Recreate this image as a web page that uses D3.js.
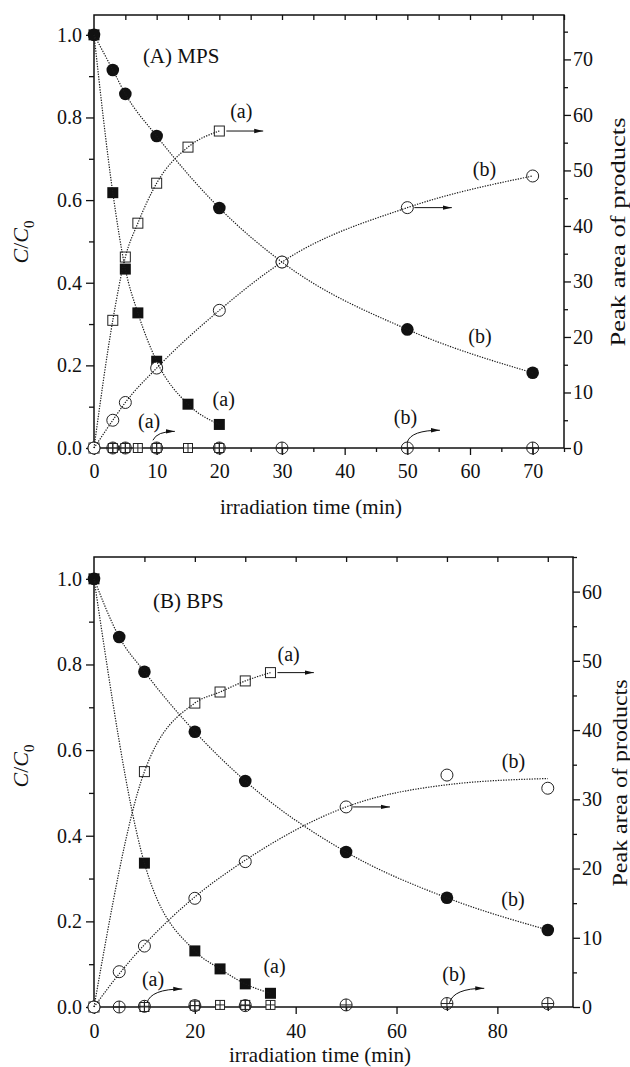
<!DOCTYPE html>
<html>
<head>
<meta charset="utf-8">
<script src="https://cdn.jsdelivr.net/npm/d3@7"></script>
<style>
    body { margin: 0; background: #fff; }
    svg text { font-family: "Liberation Serif", "Times New Roman", serif; fill: #111; }
</style>
</head>
<body>
<svg id="chart" width="630" height="1067"></svg>
<script>
// ---- (A) MPS ----
var mpsTimeA = [0, 3, 5, 7, 10, 15, 20];
var mpsTimeB = [0, 3, 5, 10, 20, 30, 50, 70];
var mpsA = [1.0, 0.618, 0.433, 0.327, 0.21, 0.106, 0.057];          // C/C0, filled squares
var mpsB = [1.0, 0.915, 0.857, 0.755, 0.581, 0.45, 0.287, 0.182];   // C/C0, filled circles
var mpsAProd = [0, 23.0, 34.4, 40.5, 47.7, 54.2, 57.1];             // peak area, open squares
var mpsBProd = [0, 5.0, 8.2, 14.4, 24.8, 33.5, 43.3, 49.0];         // peak area, open circles
var mpsAOther = [0, 0, 0, 0, 0, 0, 0];
var mpsBOther = [0, 0, 0, 0, 0, 0, 0, 0];

// ---- (B) BPS ----
var bpsTimeA = [0, 10, 20, 25, 30, 35];
var bpsTimeB = [0, 5, 10, 20, 30, 50, 70, 90];
var bpsA = [1.0, 0.336, 0.131, 0.089, 0.054, 0.032];
var bpsB = [1.0, 0.864, 0.783, 0.643, 0.528, 0.362, 0.255, 0.18];
var bpsAProd = [0, 34.0, 43.9, 45.5, 47.1, 48.3];
var bpsBProd = [0, 5.1, 8.8, 15.7, 21.0, 28.9, 33.5, 31.6];
var bpsBProdFit = [0, 4.8, 9.0, 15.9, 21.2, 28.9, 32.1, 33.0];      // fitted curve
var bpsAOther = [0, 0, 0.2, 0.3, 0.3, 0.3];
var bpsBOther = [0, 0, 0.1, 0.2, 0.2, 0.3, 0.5, 0.5];

// ---- ticks ----
var cTicks = [0, 0.2, 0.4, 0.6, 0.8, 1.0];
var cMinorTicks = [0.1, 0.3, 0.5, 0.7, 0.9];
var mpsTimeTicks = [0, 10, 20, 30, 40, 50, 60, 70];
var mpsTimeMinor = [5, 15, 25, 35, 45, 55, 65, 75];
var mpsTimeTop = [5, 10, 15, 20, 25, 30, 35, 40, 45, 50, 55, 60, 65, 70, 75];
var mpsAreaTicks = [0, 10, 20, 30, 40, 50, 60, 70];
var mpsAreaMinor = [5, 15, 25, 35, 45, 55, 65, 75];
var bpsTimeTicks = [0, 20, 40, 60, 80];
var bpsTimeMinor = [10, 30, 50, 70, 90];
var bpsTimeTop = [10, 20, 30, 40, 50, 60, 70, 80, 90];
var bpsAreaTicks = [0, 10, 20, 30, 40, 50, 60];
var bpsAreaMinor = [5, 15, 25, 35, 45, 55, 65];

var svg = d3.select("#chart");
var ink = "#111";

var defs = svg.append("defs");
defs.append("marker")
    .attr("id", "arrow")
    .attr("viewBox", "0 0 10 6")
    .attr("refX", 10)
    .attr("refY", 3)
    .attr("markerWidth", 9)
    .attr("markerHeight", 5.4)
    .attr("markerUnits", "userSpaceOnUse")
    .attr("orient", "auto")
    .append("path")
    .attr("d", "M0,0.6L10,3L0,5.4Z")
    .attr("fill", ink);

function styleAxis(sel, fontSize) {
    sel.select(".domain").remove();
    sel.attr("font-family", null).attr("font-size", null);
    sel.selectAll("line").attr("stroke", ink).attr("stroke-width", 1.3);
    sel.selectAll("text").style("font-size", fontSize + "px").attr("fill", ink);
}

function drawMarker(g, cx, cy, shape) {
    if (shape === "circleFilled") {
        g.append("circle").attr("cx", cx).attr("cy", cy).attr("r", 6.3).attr("fill", ink);
    } else if (shape === "squareFilled") {
        g.append("rect").attr("x", cx - 5.5).attr("y", cy - 5.5).attr("width", 11).attr("height", 11).attr("fill", ink);
    } else if (shape === "squareOpen" || shape === "squarePlus") {
        var s = shape === "squareOpen" ? 10 : 9;
        g.append("rect").attr("x", cx - s / 2).attr("y", cy - s / 2).attr("width", s).attr("height", s)
            .attr("fill", "#fff").attr("stroke", "#222").attr("stroke-width", 1);
        if (shape === "squarePlus") {
            g.append("path").attr("d", "M" + cx + "," + (cy - s / 2) + "V" + (cy + s / 2) + "M" + (cx - s / 2) + "," + cy + "H" + (cx + s / 2))
                .attr("stroke", "#222").attr("stroke-width", 1);
        }
    } else {
        g.append("circle").attr("cx", cx).attr("cy", cy).attr("r", 6)
            .attr("fill", shape === "circleOpen" ? "#fff" : "none").attr("stroke", "#222").attr("stroke-width", 1);
        if (shape === "circlePlus") {
            g.append("path").attr("d", "M" + cx + "," + (cy - 6) + "V" + (cy + 6) + "M" + (cx - 6) + "," + cy + "H" + (cx + 6))
                .attr("stroke", "#222").attr("stroke-width", 1);
        }
    }
}

function drawPanel(p) {
    var g = svg.append("g");
    var x = d3.scaleLinear().domain(p.xDomain).range([p.left, p.right]);
    var y = d3.scaleLinear().domain(p.yDomain).range([p.bottom, p.top]);
    var r = d3.scaleLinear().domain(p.rDomain).range([p.bottom, p.top]);

    // axes
    g.append("g").attr("transform", "translate(" + p.left + ",0)")
        .call(d3.axisLeft(y).tickValues(cTicks).tickSize(8).tickPadding(4).tickFormat(d3.format(".1f")))
        .call(styleAxis, 20);
    g.append("g").attr("transform", "translate(" + p.left + ",0)")
        .call(d3.axisLeft(y).tickValues(cMinorTicks).tickSize(5).tickFormat(""))
        .call(styleAxis, 20);
    g.append("g").attr("transform", "translate(0," + p.bottom + ")")
        .call(d3.axisBottom(x).tickValues(p.xTicks).tickSize(7).tickPadding(p.xPad).tickFormat(d3.format("d")))
        .call(styleAxis, 20);
    g.append("g").attr("transform", "translate(0," + p.bottom + ")")
        .call(d3.axisBottom(x).tickValues(p.xMinor).tickSize(4).tickFormat(""))
        .call(styleAxis, 20);
    g.append("g").attr("transform", "translate(0," + p.top + ")")
        .call(d3.axisTop(x).tickValues(p.xTop).tickSize(-5).tickFormat(""))
        .call(styleAxis, 20);
    g.append("g").attr("transform", "translate(" + p.right + ",0)")
        .call(d3.axisRight(r).tickValues(p.rTicks).tickSize(7).tickPadding(2).tickFormat(d3.format("d")))
        .call(styleAxis, 20);
    g.append("g").attr("transform", "translate(" + p.right + ",0)")
        .call(d3.axisRight(r).tickValues(p.rMinor).tickSize(4).tickFormat(""))
        .call(styleAxis, 20);

    g.append("rect")
        .attr("x", p.left).attr("y", p.top)
        .attr("width", p.right - p.left).attr("height", p.bottom - p.top)
        .attr("fill", "none").attr("stroke", ink).attr("stroke-width", 1.5);

    // markers first, dotted curves on top
    var mg = g.append("g");
    p.series.forEach(function (s) {
        var sc = s.axis === "right" ? r : y;
        s.t.forEach(function (t, i) {
            drawMarker(mg, x(t), sc(s.v[i]), s.shape);
        });
    });
    var line = d3.line().curve(d3.curveMonotoneX);
    p.series.forEach(function (s) {
        if (s.noLine) return;
        var sc = s.axis === "right" ? r : y;
        var vals = s.fit || s.v;
        g.append("path")
            .attr("d", line(s.t.map(function (t, i) { return [x(t), sc(vals[i])]; })))
            .attr("fill", "none")
            .attr("stroke", "#1a1a1a")
            .attr("stroke-width", 1.2)
            .attr("stroke-dasharray", "1.3,1.3");
    });

    // arrows (right-axis units)
    p.arrows.forEach(function (a) {
        var x0 = x(a.from[0]) + (a.curved ? 0 : 7), y0 = r(a.from[1]);
        var x1 = x(a.to[0]), y1 = r(a.to[1]);
        var d = a.curved
            ? "M" + x0 + "," + y0 + "Q" + (x0 + 4) + "," + y1 + " " + x1 + "," + y1
            : "M" + x0 + "," + y0 + "L" + x1 + "," + y1;
        g.append("path").attr("d", d).attr("fill", "none").attr("stroke", ink)
            .attr("stroke-width", 1).attr("marker-end", "url(#arrow)");
    });

    // labels (left-axis units)
    p.labels.forEach(function (l) {
        g.append("text")
            .attr("x", x(l.at[0])).attr("y", y(l.at[1]))
            .attr("text-anchor", l.anchor || "middle")
            .style("font-size", (l.size || 20) + "px")
            .text(l.text);
    });

    // axis titles
    g.append("text")
        .attr("x", p.xTitle[0]).attr("y", p.xTitle[1])
        .attr("text-anchor", "middle").style("font-size", "21px")
        .text("irradiation time (min)");

    var ct = g.append("text")
        .attr("transform", "translate(" + p.cTitle[0] + "," + p.cTitle[1] + ") rotate(-90)")
        .attr("text-anchor", "middle").style("font-size", "22px");
    ct.append("tspan").style("font-style", "italic").text("C");
    ct.append("tspan").text("/");
    ct.append("tspan").style("font-style", "italic").text("C");
    ct.append("tspan").attr("dy", 6).style("font-size", "15px").text("0");

    g.append("text")
        .attr("transform", "translate(" + p.aTitle[0] + "," + p.aTitle[1] + ") rotate(-90)")
        .attr("text-anchor", "middle").style("font-size", "20px")
        .attr("textLength", p.aTitle[2]).attr("lengthAdjust", "spacingAndGlyphs")
        .text("Peak area of products");
}

drawPanel({
    left: 94, right: 564, top: 15, bottom: 448,
    xDomain: [0, 75], yDomain: [0, 1.048], rDomain: [0, 78],
    xTicks: mpsTimeTicks, xMinor: mpsTimeMinor, xTop: mpsTimeTop, xPad: 9,
    rTicks: mpsAreaTicks, rMinor: mpsAreaMinor,
    series: [
        {t: mpsTimeB, v: mpsB, axis: "left", shape: "circleFilled"},
        {t: mpsTimeA, v: mpsA, axis: "left", shape: "squareFilled"},
        {t: mpsTimeA, v: mpsAOther, axis: "right", shape: "squarePlus", noLine: true},
        {t: mpsTimeB, v: mpsBOther, axis: "right", shape: "circlePlus", noLine: true},
        {t: mpsTimeA, v: mpsAProd, axis: "right", shape: "squareOpen"},
        {t: mpsTimeB, v: mpsBProd, axis: "right", shape: "circleOpen"}
    ],
    arrows: [
        {from: [20, 57.1], to: [27.0, 57.1]},
        {from: [50, 43.3], to: [57.1, 43.3]},
        {from: [9.4, 1.4], to: [12.9, 3.0], curved: true},
        {from: [50.0, 1.1], to: [55.2, 3.2], curved: true}
    ],
    labels: [
        {text: "(A) MPS", at: [7.8, 0.932], anchor: "start", size: 21},
        {text: "(a)", at: [23.5, 0.799]},
        {text: "(b)", at: [62.3, 0.659]},
        {text: "(b)", at: [61.6, 0.254]},
        {text: "(a)", at: [20.7, 0.102]},
        {text: "(a)", at: [8.8, 0.048]},
        {text: "(b)", at: [49.7, 0.058]}
    ],
    xTitle: [311, 514],
    cTitle: [28, 242],
    aTitle: [625, 232, 229]
});

drawPanel({
    left: 94, right: 573, top: 557, bottom: 1007,
    xDomain: [0, 95], yDomain: [0, 1.051], rDomain: [0, 65],
    xTicks: bpsTimeTicks, xMinor: bpsTimeMinor, xTop: bpsTimeTop, xPad: 10,
    rTicks: bpsAreaTicks, rMinor: bpsAreaMinor,
    series: [
        {t: bpsTimeB, v: bpsB, axis: "left", shape: "circleFilled"},
        {t: bpsTimeA, v: bpsA, axis: "left", shape: "squareFilled"},
        {t: bpsTimeA, v: bpsAOther, axis: "right", shape: "squarePlus", noLine: true},
        {t: bpsTimeB, v: bpsBOther, axis: "right", shape: "circlePlus", noLine: true},
        {t: bpsTimeA, v: bpsAProd, axis: "right", shape: "squareOpen"},
        {t: bpsTimeB, v: bpsBProd, fit: bpsBProdFit, axis: "right", shape: "circleOpen"}
    ],
    arrows: [
        {from: [35, 48.3], to: [43.6, 48.3]},
        {from: [50, 28.9], to: [58.7, 28.9]},
        {from: [10.5, 0.6], to: [17.5, 2.6], curved: true},
        {from: [70.5, 0.6], to: [77.4, 2.7], curved: true}
    ],
    labels: [
        {text: "(B) BPS", at: [11.7, 0.932], anchor: "start", size: 21},
        {text: "(a)", at: [38.6, 0.808]},
        {text: "(b)", at: [83.2, 0.558]},
        {text: "(b)", at: [83.1, 0.236]},
        {text: "(a)", at: [35.8, 0.079]},
        {text: "(a)", at: [11.7, 0.049]},
        {text: "(b)", at: [71.4, 0.061]}
    ],
    xTitle: [320, 1062],
    cTitle: [28, 766],
    aTitle: [627, 783, 207]
});
</script>
</body>
</html>
